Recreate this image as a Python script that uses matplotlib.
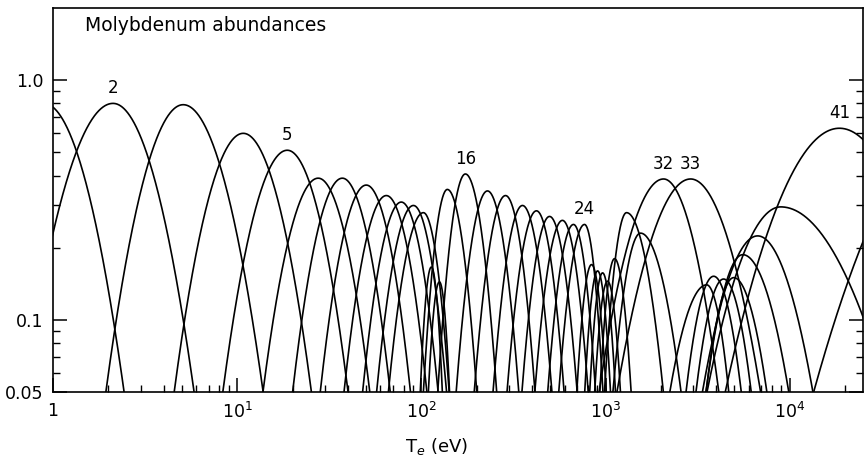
import numpy as np
import matplotlib
matplotlib.use("Agg")
import matplotlib.pyplot as plt
from matplotlib.ticker import LogLocator, FixedLocator, NullFormatter

# Ion charge states (label numbers as printed)
ions = list(range(1, 43))
# Peak temperature (eV, log10), peak abundance, and left/right half-widths
# (decades of Te at which the curve falls to 0.05)
peak_logT = [-0.05, 0.326, 0.707, 1.033, 1.272, 1.440, 1.571, 1.701, 1.810, 1.891,
             1.957, 2.011, 2.054, 2.098, 2.141, 2.239, 2.359, 2.457, 2.549, 2.625,
             2.696, 2.766, 2.826, 2.886, 2.924, 2.957, 2.984, 3.011, 3.049, 3.114,
             3.190, 3.315, 3.462, 3.549, 3.587, 3.641, 3.696, 3.745, 3.826, 3.951,
             4.270, 5.000]
peak_abund = [0.80, 0.80, 0.79, 0.60, 0.51, 0.39, 0.39, 0.365, 0.33, 0.31,
              0.30, 0.28, 0.166, 0.144, 0.35, 0.406, 0.345, 0.33, 0.30, 0.285,
              0.27, 0.26, 0.25, 0.25, 0.17, 0.16, 0.157, 0.145, 0.18, 0.28,
              0.23, 0.387, 0.387, 0.14, 0.152, 0.148, 0.15, 0.187, 0.224, 0.296,
              0.63, 0.80]
half_left = [0.45, 0.486, 0.42, 0.375, 0.35, 0.30, 0.27, 0.25, 0.23, 0.21,
             0.20, 0.19, 0.06, 0.06, 0.13, 0.15, 0.17, 0.17, 0.16, 0.16,
             0.15, 0.15, 0.14, 0.14, 0.08, 0.07, 0.07, 0.07, 0.08, 0.12,
             0.15, 0.35, 0.40, 0.20, 0.15, 0.15, 0.15, 0.20, 0.30, 0.40,
             0.62, 0.87]
half_right = [0.436, 0.44, 0.434, 0.37, 0.33, 0.28, 0.26, 0.24, 0.22, 0.20,
              0.18, 0.14, 0.06, 0.055, 0.16, 0.17, 0.17, 0.16, 0.16, 0.15,
              0.15, 0.14, 0.12, 0.10, 0.08, 0.07, 0.07, 0.07, 0.09, 0.20,
              0.22, 0.30, 0.38, 0.12, 0.15, 0.15, 0.18, 0.25, 0.30, 0.58,
              0.62, 0.87]

labelled = {2: "2", 5: "5", 16: "16", 24: "24", 32: "32", 33: "33", 41: "41"}

x_min, x_max = 1.0, 2.5e4
y_min, y_max = 0.05, 2.0
FLOOR = 0.05

fig = plt.figure(figsize=(8.64, 4.66), dpi=100)
ax = fig.add_axes([53 / 864, 1 - 392 / 466, 810 / 864, (392 - 8) / 466])

for z, lt, ap, dl, dr in zip(ions, peak_logT, peak_abund, half_left, half_right):
    drop = np.log10(ap / FLOOR)
    kl = drop / dl ** 2
    kr = drop / dr ** 2
    xs = np.linspace(lt - dl, lt + dr, 400)
    k = np.where(xs < lt, kl, kr)
    ly = np.log10(ap) - k * (xs - lt) ** 2
    ax.plot(10 ** xs, 10 ** ly, color="black", lw=1.2, solid_capstyle="butt")
    if z in labelled:
        ax.text(10 ** lt, ap * 1.06, labelled[z], ha="center", va="bottom",
                fontsize=12, color="black")

ax.set_xscale("log")
ax.set_yscale("log")
ax.set_xlim(x_min, x_max)
ax.set_ylim(y_min, y_max)

ax.xaxis.set_major_locator(FixedLocator([1, 10, 100, 1000, 10000]))
ax.set_xticklabels(["1", "$10^1$", "$10^2$", "$10^3$", "$10^4$"])
ax.xaxis.set_minor_locator(LogLocator(base=10, subs=np.arange(2, 10)))
ax.xaxis.set_minor_formatter(NullFormatter())

ax.yaxis.set_major_locator(FixedLocator([0.05, 0.1, 1.0]))
ax.set_yticklabels(["0.05", "0.1", "1.0"])
ax.yaxis.set_minor_locator(FixedLocator([0.06, 0.07, 0.08, 0.09, 0.2, 0.3, 0.4,
                                         0.5, 0.6, 0.7, 0.8, 0.9]))
ax.yaxis.set_minor_formatter(NullFormatter())

ax.tick_params(which="both", direction="in", right=True, top=False,
               labelsize=12.5, colors="black")
ax.tick_params(which="major", length=10, width=1.1, pad=7)
ax.tick_params(which="minor", length=5, width=1.0)
for s in ax.spines.values():
    s.set_linewidth(1.2)

ax.text(0.04, 0.955, "Molybdenum abundances", transform=ax.transAxes,
        fontsize=13.5, ha="left", va="center")

ax.set_xlabel("T$_e$ (eV)", fontsize=13)
ax.xaxis.set_label_coords((437 - 53) / 810, -0.115)

fig.savefig("out.png", dpi=100)
